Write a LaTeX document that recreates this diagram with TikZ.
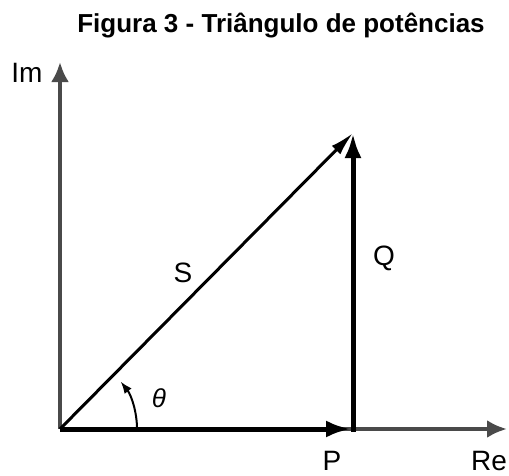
\documentclass[tikz,border=0pt]{standalone}
\usepackage{fontspec}
\setmainfont{Liberation Sans}
\usetikzlibrary{arrows.meta}
\definecolor{axgray}{HTML}{4A4A4A}

\begin{document}
\begin{tikzpicture}[
  x=1pt, y=1pt,
  axis/.style={-{Latex[length=20pt, width=18pt]}, axgray, line width=4pt},
  vec/.style={-{Latex[length=25pt, width=17pt]}, black, line width=5pt},
  lbl/.style={black, font=\fontsize{28}{32}\selectfont, anchor=base},
]
\useasboundingbox (-60,-46) rectangle (449,429);

% ===== Points =====
\coordinate (O) at (0,0);
\coordinate (ImTip) at (0,367);
\coordinate (ReTip) at (447,0);
\coordinate (Pfoot) at (293,0);
\coordinate (PTip) at (291,0);
\coordinate (QTip) at (293,296);

% ===== Axes =====
\draw[axis] (O) -- (ImTip);
\draw[axis] (O) -- (ReTip);

% ===== Power triangle =====
\draw[vec] (O) -- (PTip);
\draw[vec, line cap=butt] ([yshift=-2.5pt]Pfoot) -- (QTip);
\draw[-{Latex[length=24pt, width=12pt]}, black, line width=3pt] (O) -- (QTip);

% Angle
\draw[-{Latex[length=12pt, width=9pt]}, black, line width=2pt] (77,0) arc (0:38:77);

% ===== Labels =====
\node[lbl] (im) at (-33,347) {Im};
\node[lbl] (re) at (429,-41) {Re};
\node[lbl] (p) at (272,-41) {P};
\node[lbl] (q) at (324,164) {Q};
\node[lbl] (s) at (123,147) {S};
\node[lbl, font=\fontsize{26}{30}\selectfont\itshape] (th) at (99,22) {θ};
\node[lbl, font=\fontsize{26}{30}\selectfont\bfseries] (title) at (221,396) {Figura 3 - Triângulo de potências};
\end{tikzpicture}
\end{document}
